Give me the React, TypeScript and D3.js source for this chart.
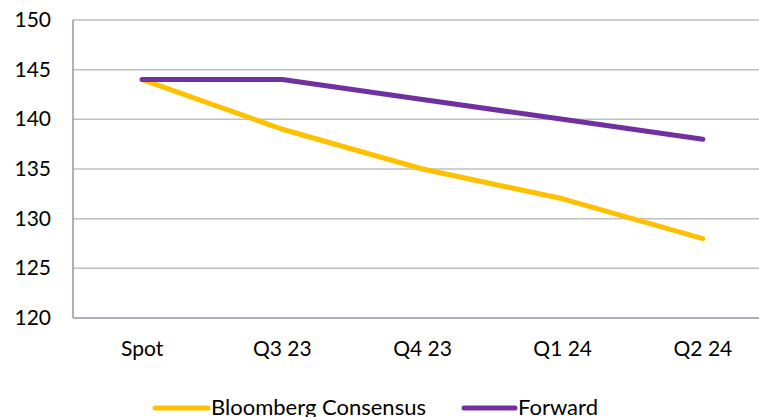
import { useEffect, useRef } from "react"
import * as d3 from "d3"

// Categories and series
const categories = ["Spot", "Q3 23", "Q4 23", "Q1 24", "Q2 24"]
const bloombergValues = [144, 139, 135, 132, 128]
const forwardValues = [144, 144, 142, 140, 138]
const yTicks = [120, 125, 130, 135, 140, 145, 150]

const FONT = "Lato, 'Open Sans', sans-serif"

export default function App() {
  const svgRef = useRef<SVGSVGElement>(null)

  useEffect(() => {
    if (!svgRef.current) return
    const width = 759
    const height = 417
    const margin = { top: 20, right: -14, bottom: 99, left: 72 }

    const svg = d3.select(svgRef.current)
    svg.selectAll("*").remove()
    svg.attr("width", width).attr("height", height)

    const x = d3
      .scaleBand()
      .domain(categories)
      .range([margin.left, width - margin.right])
    const y = d3
      .scaleLinear()
      .domain([120, 150])
      .range([height - margin.bottom, margin.top])

    // Gridlines
    svg
      .append("g")
      .selectAll("line")
      .data(yTicks.filter((t) => t !== 120))
      .join("line")
      .attr("x1", margin.left + 1)
      .attr("x2", width)
      .attr("y1", (d) => y(d))
      .attr("y2", (d) => y(d))
      .attr("stroke", "#bfbfbf")
      .attr("stroke-width", 1.5)

    // Axes lines
    svg
      .append("line")
      .attr("x1", margin.left + 1)
      .attr("x2", margin.left + 1)
      .attr("y1", y(150))
      .attr("y2", y(120))
      .attr("stroke", "#9b91a8")
      .attr("stroke-width", 1.5)
    svg
      .append("line")
      .attr("x1", margin.left + 1)
      .attr("x2", width)
      .attr("y1", y(120))
      .attr("y2", y(120))
      .attr("stroke", "#9b91a8")
      .attr("stroke-width", 1.5)

    // Y tick labels
    svg
      .append("g")
      .selectAll("text")
      .data(yTicks)
      .join("text")
      .attr("x", 51)
      .attr("y", (d) => y(d) + 7)
      .attr("text-anchor", "end")
      .style("font-family", FONT)
      .style("font-size", "21px")
      .style("fill", "#000")
      .text((d) => d)

    // X tick labels
    svg
      .append("g")
      .selectAll("text")
      .data(categories)
      .join("text")
      .attr("x", (d) => (x(d) || 0) + x.bandwidth() / 2)
      .attr("y", 356)
      .attr("text-anchor", "middle")
      .style("font-family", FONT)
      .style("font-size", "21px")
      .style("fill", "#000")
      .text((d) => d)

    const line = d3
      .line<number>()
      .x((_, i) => (x(categories[i]) || 0) + x.bandwidth() / 2)
      .y((d) => y(d))

    const series = [
      { name: "Bloomberg Consensus", values: bloombergValues, color: "#FFC000" },
      { name: "Forward", values: forwardValues, color: "#7030A0" },
    ]

    series.forEach((s) => {
      svg
        .append("path")
        .datum(s.values)
        .attr("d", line)
        .attr("fill", "none")
        .attr("stroke", s.color)
        .attr("stroke-width", 5)
        .attr("stroke-linecap", "round")
        .attr("stroke-linejoin", "round")
    })

    // Legend
    const legendItems = [
      { ...series[0], x1: 155, x2: 208 },
      { ...series[1], x1: 464, x2: 515 },
    ]
    legendItems.forEach((s) => {
      svg
        .append("line")
        .attr("x1", s.x1)
        .attr("x2", s.x2)
        .attr("y1", 408)
        .attr("y2", 408)
        .attr("stroke", s.color)
        .attr("stroke-width", 5)
        .attr("stroke-linecap", "round")
      svg
        .append("text")
        .attr("x", s.x2 + 3)
        .attr("y", 415)
        .style("font-family", FONT)
        .style("font-size", "22px")
        .style("fill", "#000")
        .text(s.name)
    })
  }, [])

  return (
    <div style={{ position: "absolute", left: 0, top: 0 }}>
      <svg ref={svgRef} style={{ display: "block" }}></svg>
    </div>
  )
}
